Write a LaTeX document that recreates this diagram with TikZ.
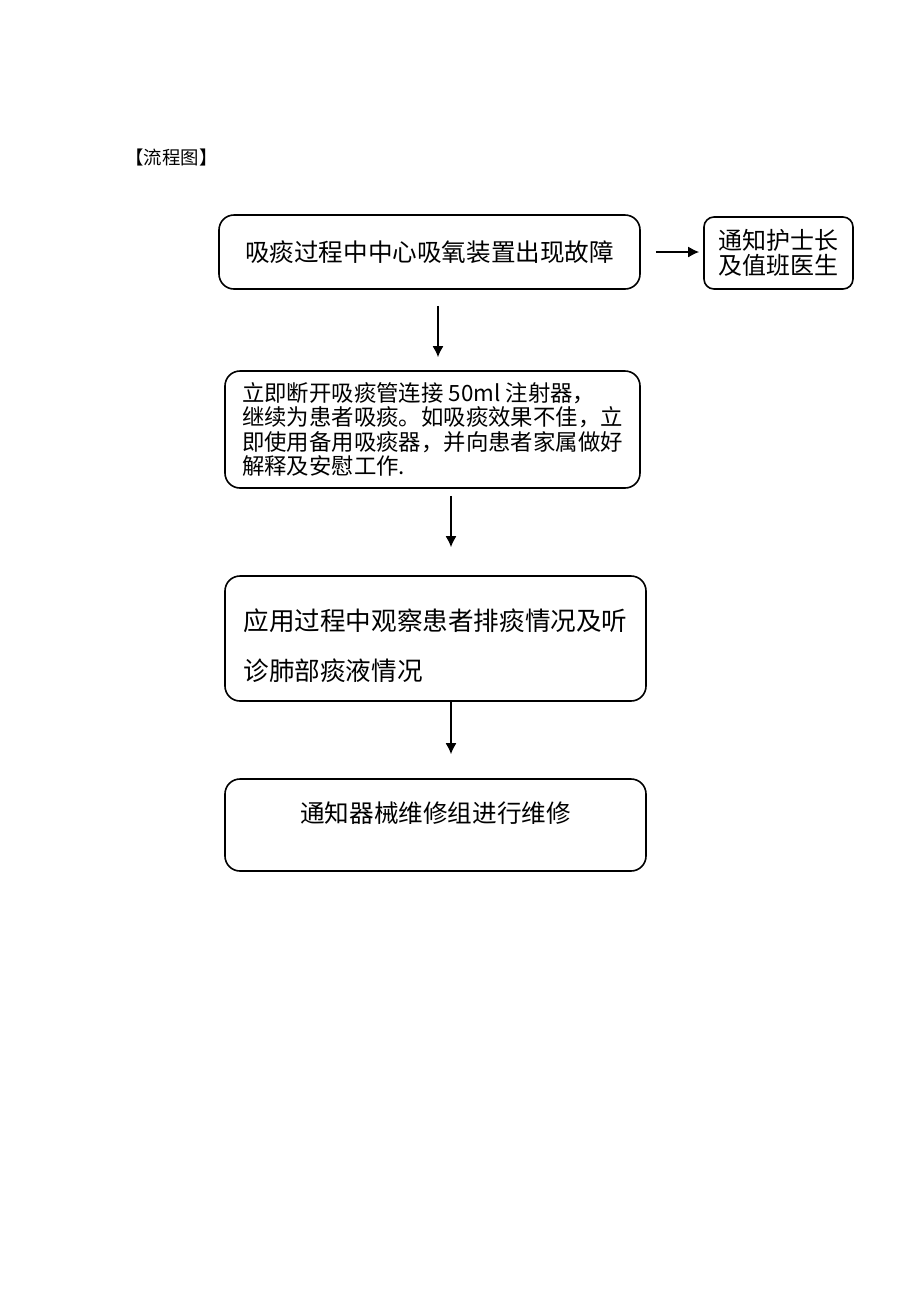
\documentclass[tikz,border=0pt]{standalone}
\usepackage{fontspec}
\setmainfont{Noto Sans CJK SC}
\usepackage{tikz}
\usetikzlibrary{arrows.meta, calc}
\tikzstyle{roundbox} = [rectangle, rounded corners=7.5pt, minimum width=210.5pt, minimum height=37pt, align=left, draw=black, line width=0.8pt, inner sep=2pt, font=\fontsize{12.3pt}{14pt}\selectfont]
\tikzstyle{sidebox} = [rectangle, rounded corners=5pt, minimum width=74.5pt, minimum height=36pt, align=left, draw=black, line width=0.8pt, inner sep=2pt, font=\fontsize{12pt}{12.5pt}\selectfont]
\tikzstyle{arrow} = [line width=0.8pt,-{Latex[length=5.5pt,width=5.5pt]}]

\begin{document}
\begin{tikzpicture}[node distance=90pt]
\useasboundingbox (0,0) rectangle (460pt,-651pt);

% Title
\node (title) at (85.75pt,-79pt) {\fontsize{9.2pt}{11pt}\selectfont 【流程图】};

% First row nodes
\node (fault) [roundbox] at (214.75pt,-126pt) {吸痰过程中中心吸氧装置出现故障};
\node (notify) [sidebox, right of=fault, xshift=84.5pt, yshift=-0.5pt] {通知护士长\\及值班医生};

% Column nodes
\node (act) [roundbox, minimum width=207.5pt, minimum height=58.5pt, below of=fault, xshift=1.5pt, yshift=1.25pt, font=\fontsize{11.2pt}{12.2pt}\selectfont] {立即断开吸痰管连接 50ml 注射器，\\继续为患者吸痰。如吸痰效果不佳，立\\即使用备用吸痰器，并向患者家属做好\\解释及安慰工作.};
\node (watch) [roundbox, minimum height=62.5pt, below of=act, xshift=1.5pt, yshift=-14.5pt, font=\fontsize{12.8pt}{12.8pt}\selectfont] {\raisebox{-5pt}[\height][\depth]{\begin{tabular}{@{}l@{}}应用过程中观察患者排痰情况及听\\[10.7pt]诊肺部痰液情况\end{tabular}}};
\node (repair) [roundbox, minimum height=46pt, below of=watch, yshift=-3.25pt] {\raisebox{6pt}[\height][\depth]{通知器械维修组进行维修}};

% Arrow ends
\coordinate (a1s) at ($(fault.south)+(4.25pt,-8pt)$);
\coordinate (a1e) at ($(act.north)+(2.75pt,6.5pt)$);
\coordinate (a2s) at ($(act.south)+(9.25pt,-3.5pt)$);
\coordinate (a2e) at ($(watch.north)+(7.75pt,14pt)$);
\coordinate (a3s) at ($(watch.south)+(7.75pt,0pt)$);
\coordinate (a3e) at ($(repair.north)+(7.75pt,12pt)$);
\coordinate (sas) at ($(fault.east)+(7.5pt,0pt)$);
\coordinate (sae) at ($(notify.west)+(-2pt,0.5pt)$);

% Drawing arrows
\draw [arrow] (sas) -- (sae);
\draw [arrow] (a1s) -- (a1e);
\draw [arrow] (a2s) -- (a2e);
\draw [arrow] (a3s) -- (a3e);

\end{tikzpicture}
\end{document}
